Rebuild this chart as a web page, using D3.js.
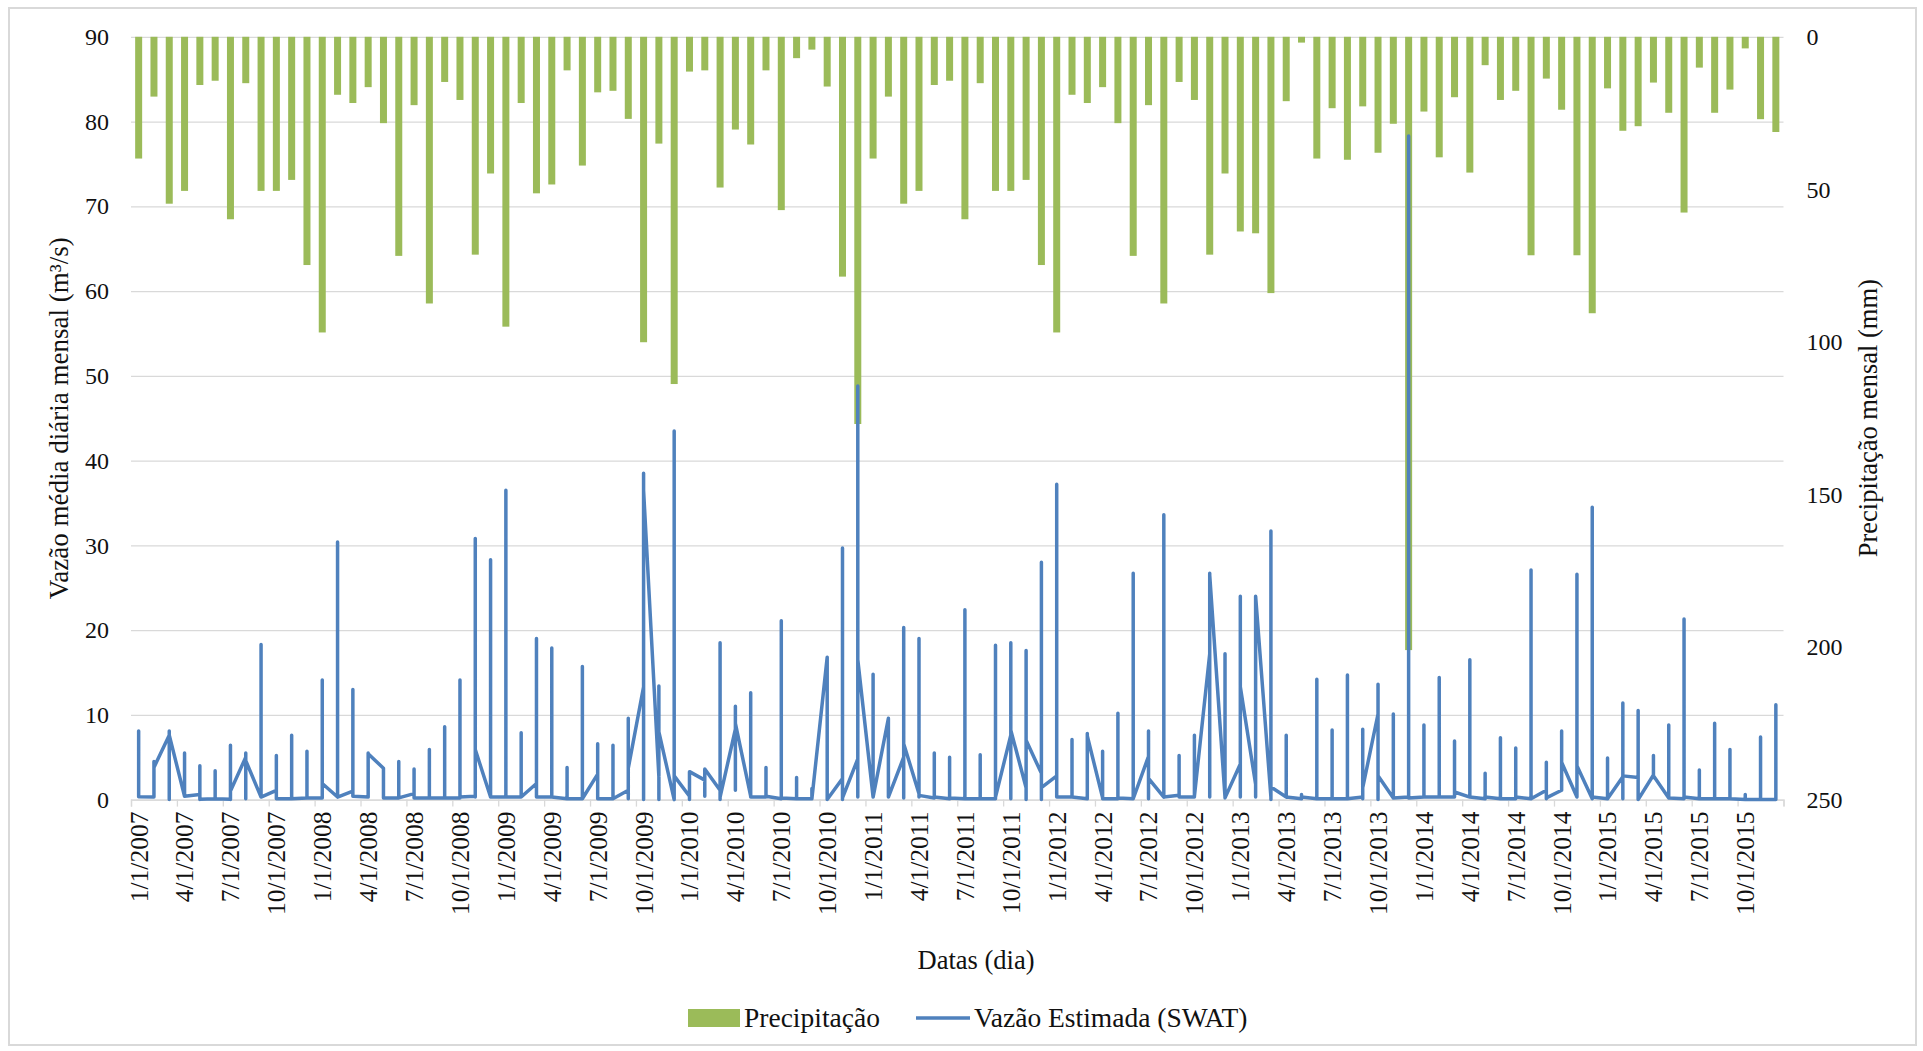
<!DOCTYPE html>
<html>
<head>
<meta charset="utf-8">
<script src="https://cdn.jsdelivr.net/npm/d3@7"></script>
<style>
  body { margin: 0; background: #fff; }
  svg text { font-family: "Liberation Serif", "Times New Roman", serif; fill: #111; }
</style>
</head>
<body>
<svg id="chart" width="1923" height="1051"></svg>
<script>
// monthly series, Jan 2007 .. Dec 2015 (108 months)
var precip = [
  39.9, 19.6, 54.7, 50.5, 15.8, 14.4, 59.8, 15.2, 50.5, 50.5, 46.9, 74.8,
  96.9, 19.0, 21.7, 16.5, 28.3, 71.8, 22.4, 87.4, 14.8, 20.7, 71.4, 44.8,
  95.0, 21.7, 51.3, 48.4, 11.0, 42.2, 18.2, 17.7, 26.9, 100.1, 35.0, 113.8,
  11.4, 11.0, 49.4, 30.4, 35.3, 11.0, 56.8, 7.0, 4.2, 16.3, 78.6, 126.9,
  39.9, 19.6, 54.7, 50.5, 15.8, 14.4, 59.8, 15.2, 50.5, 50.5, 46.9, 74.8,
  96.9, 19.0, 21.7, 16.5, 28.3, 71.8, 22.4, 87.4, 14.8, 20.7, 71.4, 44.8,
  63.8, 64.4, 84.0, 21.1, 1.9, 39.9, 23.4, 40.3, 22.8, 38.0, 28.5, 201.0,
  24.5, 39.5, 19.8, 44.5, 9.3, 20.7, 17.7, 71.6, 13.7, 23.9, 71.6, 90.6,
  16.9, 30.8, 29.3, 15.0, 24.9, 57.6, 10.1, 24.9, 17.3, 3.8, 27.0, 31.2
];

// daily flow collapsed per month on the date axis: first day, max, min, last day
var flowStart = [
  0.35, 0.3, 7.6, 0.4, 0.6, 0.1, 0.05, 5.0, 0.3, 1.1, 0.1, 0.2,
  0.2, 0.3, 1.0, 0.3, 3.7, 0.2, 0.7, 0.2, 0.2, 0.2, 0.4, 0.3,
  0.3, 0.3, 1.9, 0.3, 0.1, 0.1, 3.0, 0.1, 1.1, 13.3, 2.7, 0.0,
  0.4, 2.3, 1.1, 8.3, 0.4, 0.3, 0.1, 0.1, 0.1, 16.8, 2.5, 4.8,
  0.3, 9.6, 5.0, 0.7, 0.2, 0.1, 0.1, 0.1, 0.1, 7.6, 1.4, 3.1,
  2.8, 0.3, 0.1, 0.2, 0.1, 0.1, 5.1, 0.3, 0.5, 0.3, 17.2, 0.3,
  4.2, 1.8, 0.3, 0.3, 0.1, 0.1, 0.1, 0.1, 0.3, 10.1, 0.2, 0.3,
  0.3, 0.3, 0.3, 0.3, 0.1, 0.1, 0.1, 0.1, 1.1, 1.1, 0.3, 0.1,
  0.1, 2.7, 2.6, 2.9, 0.2, 0.1, 0.1, 0.1, 0.1, 0.0, 0.0, 0.0
];
var flowPeak = [
  8.1, 4.5, 8.1, 5.5, 4.0, 3.4, 6.4, 5.5, 18.3, 5.2, 7.6, 5.7,
  14.1, 30.4, 13.0, 5.5, 3.7, 4.5, 3.6, 5.9, 8.6, 14.1, 30.8, 28.3,
  36.5, 7.9, 19.0, 17.9, 3.8, 15.7, 6.6, 6.4, 9.6, 38.5, 13.4, 43.5,
  3.3, 3.6, 18.5, 11.0, 12.6, 3.8, 21.1, 2.6, 1.3, 4.1, 29.7, 48.8,
  14.8, 6.9, 20.3, 19.0, 5.5, 5.0, 22.4, 5.3, 18.2, 18.5, 17.6, 28.0,
  37.2, 7.1, 7.8, 5.7, 10.2, 26.7, 8.1, 33.6, 5.2, 7.6, 26.7, 17.2,
  24.0, 24.0, 31.7, 7.6, 0.6, 14.2, 8.2, 14.7, 8.3, 13.6, 10.1, 78.3,
  8.8, 14.4, 6.9, 16.5, 3.1, 7.3, 6.1, 27.1, 4.4, 8.1, 26.6, 34.5,
  4.9, 11.4, 10.5, 5.2, 8.8, 21.3, 3.5, 9.0, 5.9, 0.6, 7.4, 11.2
];
var flowLow = [
  0.35, 0.3, 0.0, 0.4, 0.0, 0.1, 0.0, 0.1, 0.3, 0.1, 0.1, 0.2,
  0.2, 0.3, 0.4, 0.3, 0.2, 0.2, 0.2, 0.2, 0.2, 0.2, 0.3, 0.3,
  0.3, 0.3, 0.3, 0.3, 0.1, 0.1, 0.1, 0.1, 0.1, 0.0, 0.0, 0.0,
  0.0, 0.4, 0.0, 1.1, 0.3, 0.4, 0.2, 0.1, 0.1, 0.0, 0.0, 0.3,
  0.3, 0.3, 0.2, 0.3, 0.3, 0.2, 0.1, 0.1, 0.1, 0.1, 0.0, 0.0,
  0.3, 0.3, 0.3, 0.1, 0.2, 0.1, 0.1, 0.3, 0.3, 0.4, 0.3, 0.2,
  0.3, 0.3, 0.0, 0.3, 0.3, 0.1, 0.1, 0.1, 0.1, 0.0, 0.2, 0.2,
  0.3, 0.3, 0.3, 0.3, 0.3, 0.1, 0.1, 0.1, 0.1, 1.1, 0.3, 0.3,
  0.1, 0.1, 0.0, 2.6, 0.2, 0.2, 0.1, 0.1, 0.1, 0.0, 0.0, 0.0
];
var flowEnd = [
  0.35, 3.8, 7.6, 0.4, 0.05, 0.1, 1.0, 4.6, 0.3, 0.1, 0.1, 0.2,
  1.9, 0.3, 0.4, 5.4, 0.2, 0.2, 0.2, 0.2, 0.2, 0.3, 5.9, 0.3,
  0.3, 0.3, 0.3, 0.3, 0.1, 0.1, 0.1, 0.1, 3.7, 36.5, 8.0, 2.8,
  3.3, 3.6, 0.3, 9.0, 0.3, 0.4, 0.2, 0.1, 0.1, 0.0, 0.2, 16.5,
  0.3, 0.3, 6.6, 0.5, 0.3, 0.2, 0.1, 0.1, 0.3, 8.2, 7.0, 1.4,
  0.3, 0.3, 7.5, 0.1, 0.2, 0.1, 2.5, 0.3, 0.3, 0.4, 26.5, 0.2,
  13.3, 24.0, 1.5, 0.3, 0.3, 0.1, 0.1, 0.1, 1.4, 2.8, 0.2, 0.2,
  0.3, 0.3, 0.9, 0.3, 0.3, 0.1, 0.3, 0.1, 0.2, 4.4, 4.0, 0.3,
  0.1, 2.8, 0.0, 2.8, 0.2, 0.3, 0.1, 0.1, 0.1, 0.0, 0.0, 0.0
];

var flowTicks = [0, 10, 20, 30, 40, 50, 60, 70, 80, 90];
var precipTicks = [0, 50, 100, 150, 200, 250];

var months = d3.timeMonth.range(new Date(2007, 0, 1), new Date(2016, 0, 1));
var labelMonths = months.filter(function(d, i) { return i % 3 === 0; });
var fmt = d3.timeFormat("%-m/%-d/%Y");

var plotL = 131, plotR = 1783.5, plotT = 36.8, plotB = 799.6;

var svg = d3.select("#chart");

svg.append("rect")
    .attr("x", 9).attr("y", 8)
    .attr("width", 1907).attr("height", 1037)
    .attr("fill", "#fff")
    .attr("stroke", "#d9d9d9")
    .attr("stroke-width", 2);

var x = d3.scaleBand().domain(months).range([plotL, plotR]);
var xi = d3.scaleLinear().domain([0, months.length]).range([plotL, plotR]);
var y = d3.scaleLinear().domain([0, 90]).range([plotB, plotT]);
var y2 = d3.scaleLinear().domain([0, 250]).range([plotT, plotB]);

// gridlines
var grid = svg.append("g")
    .attr("transform", "translate(" + plotL + ",0)")
    .call(d3.axisLeft(y).tickValues(flowTicks).tickSize(-(plotR - plotL)).tickFormat(""));
grid.select(".domain").remove();
grid.selectAll("line").attr("stroke", "#d9d9d9").attr("stroke-width", 1.3);

// tick marks between categories
var tk = svg.append("g")
    .attr("transform", "translate(0," + plotB + ")")
    .call(d3.axisBottom(xi).tickValues(d3.range(0, months.length + 1, 3)).tickSize(7).tickFormat(""));
tk.select(".domain").attr("stroke", "#d9d9d9").attr("stroke-width", 1.3);
tk.selectAll("line").attr("stroke", "#d9d9d9").attr("stroke-width", 1.3);

// left axis labels
var ax = svg.append("g")
    .attr("transform", "translate(" + plotL + ",0)")
    .call(d3.axisLeft(y).tickValues(flowTicks).tickSize(0).tickPadding(22));
ax.select(".domain").remove();
ax.selectAll("text").style("font-size", "24px");

// right axis labels
var ax2 = svg.append("g")
    .attr("transform", "translate(" + plotR + ",0)")
    .call(d3.axisRight(y2).tickValues(precipTicks).tickSize(0).tickPadding(23));
ax2.select(".domain").remove();
ax2.selectAll("text").style("font-size", "24px");

// date labels
var axb = svg.append("g")
    .attr("transform", "translate(0," + plotB + ")")
    .call(d3.axisBottom(x).tickValues(labelMonths).tickSize(0).tickFormat(fmt));
axb.select(".domain").remove();
axb.selectAll("text")
    .style("font-size", "25.5px")
    .attr("transform", "rotate(-90)")
    .attr("text-anchor", "end")
    .attr("x", -12)
    .attr("y", 0)
    .attr("dy", "0.35em");

// precipitation bars hanging from the top
var barW = 7;
svg.append("g").selectAll("rect")
    .data(precip)
  .enter().append("rect")
    .attr("x", function(d, i) { return x(months[i]) + x.bandwidth() / 2 - barW / 2; })
    .attr("y", y2(0))
    .attr("width", barW)
    .attr("height", function(d) { return y2(d) - y2(0); })
    .attr("fill", "#9bbb59");

// flow line
var pts = [];
months.forEach(function(m, i) {
  pts.push([m, flowStart[i]]);
  pts.push([m, flowPeak[i]]);
  pts.push([m, flowLow[i]]);
  pts.push([m, flowEnd[i]]);
});
var line = d3.line()
    .x(function(d) { return x(d[0]) + x.bandwidth() / 2; })
    .y(function(d) { return y(d[1]); });
svg.append("path")
    .datum(pts)
    .attr("d", line)
    .attr("fill", "none")
    .attr("stroke", "#4f81bd")
    .attr("stroke-width", 3.5)
    .attr("stroke-linejoin", "round")
    .attr("stroke-linecap", "round");

// axis titles
svg.append("text")
    .attr("transform", "translate(59," + (plotT + plotB) / 2 + ") rotate(-90)")
    .attr("text-anchor", "middle")
    .attr("dy", "0.35em")
    .style("font-size", "27px")
    .text("Vazão média diária mensal (m³/s)");

svg.append("text")
    .attr("transform", "translate(1868," + (plotT + plotB) / 2 + ") rotate(-90)")
    .attr("text-anchor", "middle")
    .attr("dy", "0.35em")
    .style("font-size", "26.5px")
    .text("Precipitação mensal (mm)");

svg.append("text")
    .attr("x", 976).attr("y", 969)
    .attr("text-anchor", "middle")
    .style("font-size", "26.5px")
    .text("Datas (dia)");

// legend
var lg = svg.append("g");
lg.append("rect")
    .attr("x", 688).attr("y", 1009).attr("width", 52).attr("height", 18)
    .attr("fill", "#9bbb59");
lg.append("text")
    .attr("x", 744).attr("y", 1027)
    .style("font-size", "27.5px")
    .text("Precipitação");
lg.append("line")
    .attr("x1", 916).attr("x2", 970).attr("y1", 1018).attr("y2", 1018)
    .attr("stroke", "#4f81bd").attr("stroke-width", 3.5);
lg.append("text")
    .attr("x", 974).attr("y", 1027)
    .style("font-size", "27.5px")
    .text("Vazão Estimada (SWAT)");
</script>
</body>
</html>
